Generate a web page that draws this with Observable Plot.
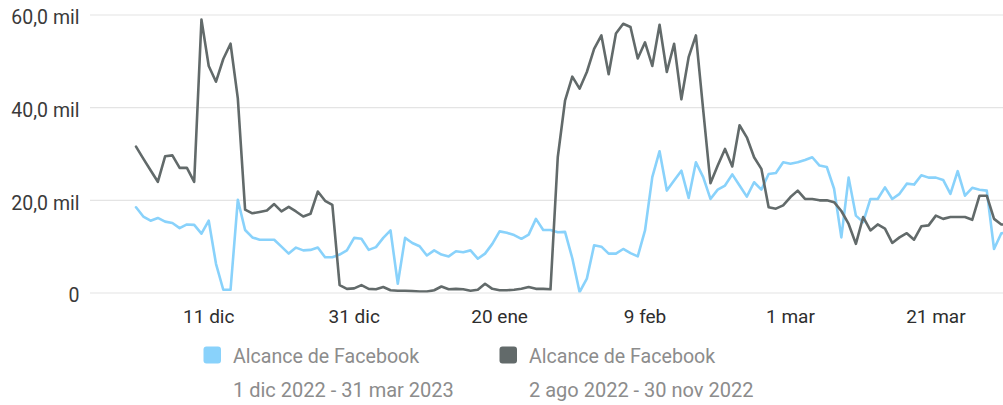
<!DOCTYPE html>
<html><head><meta charset="utf-8">
<script src="https://cdn.jsdelivr.net/npm/d3@7"></script>
<script src="https://cdn.jsdelivr.net/npm/@observablehq/plot@0.6"></script>
<style>
body{margin:0;background:#fff;font-family:Roboto,sans-serif;}
#wrap{position:relative;width:1003px;height:405px;overflow:hidden;}
#chart{position:absolute;left:0;top:0;}
#legend{position:absolute;left:0;top:0;}
</style></head><body>
<div id="wrap"><div id="chart"></div><svg id="legend" width="1003" height="405"></svg></div>
<script>
// Series: Alcance de Facebook (thousands), daily from 1 dic 2022
const startDate = "2022-12-01";
const blueValues = [18.5,16.5,15.6,16.2,15.4,15.1,14.0,14.8,14.7,12.8,15.6,6.3,0.7,0.7,20.1,13.6,12.0,11.5,11.5,11.5,
10.0,8.5,9.8,9.2,9.3,9.8,7.7,7.7,8.3,9.2,11.9,11.7,9.3,9.9,11.9,13.5,2.0,11.9,10.8,10.1,
8.1,9.2,8.3,7.9,9.0,8.8,9.2,7.4,8.5,10.6,13.3,13.0,12.5,11.7,12.6,16.0,13.6,13.6,13.1,13.2,
7.5,0.2,3.1,10.3,10.0,8.5,8.5,9.5,8.6,7.9,13.5,25.0,30.6,22.1,24.3,26.4,20.5,28.2,25.0,20.3,
22.3,23.2,25.6,23.2,20.8,23.9,22.3,25.7,25.9,28.2,27.9,28.2,28.7,29.3,27.5,27.2,22.5,12.0,24.9,16.7,
15.3,20.3,20.3,22.8,20.3,21.4,23.6,23.4,25.4,24.9,24.9,24.4,21.4,26.3,21.0,22.7,22.3,22.1,9.5,12.9,13.0];
const grayValues = [31.6,29.0,26.5,24.0,29.5,29.7,27.0,27.0,24.0,59.0,49.0,45.6,50.5,53.8,42.0,18.0,17.2,17.5,17.8,19.2,
17.6,18.6,17.6,16.5,17.1,21.9,19.9,19.0,1.7,0.9,1.0,1.7,0.9,0.8,1.3,0.6,0.5,0.5,0.4,0.3,
0.3,0.6,1.4,0.8,0.9,0.8,0.5,0.7,2.0,0.9,0.6,0.6,0.7,0.9,1.3,0.9,0.9,0.8,29.3,41.5,
46.7,44.1,47.7,52.7,55.6,47.2,56.0,58.1,57.4,50.6,54.1,49.0,57.9,47.7,53.8,41.8,50.9,55.6,39.5,23.7,
27.5,31.1,27.3,36.2,33.6,29.3,26.8,18.5,18.2,18.9,20.7,22.1,20.3,20.3,20.0,20.0,19.6,17.7,14.9,10.6,
16.4,13.5,14.8,13.9,10.8,12.0,12.9,11.5,14.4,14.6,16.7,16.0,16.4,16.4,16.4,15.8,21.0,21.0,16.0,14.8,14.8];
const seriesNames = ["Alcance de Facebook", "Alcance de Facebook"];
const seriesRanges = ["1 dic 2022 - 31 mar 2023", "2 ago 2022 - 30 nov 2022"];
const seriesColors = ["#89d2fb", "#626a6a"];
const xTickDates = ["2022-12-11","2022-12-31","2023-01-20","2023-02-09","2023-03-01","2023-03-21"];
const monthAbbr = ["ene","feb","mar","abr","may","jun","jul","ago","sep","oct","nov","dic"];
const yTicks = [0, 20000, 40000, 60000];

const DAY = 864e5;
const t0 = new Date(startDate + "T00:00:00Z").getTime();
const toDate = i => new Date(t0 + i * DAY);
const rows = [];
blueValues.forEach((v, i) => rows.push({date: toDate(i), value: v * 1000, s: 0}));
grayValues.forEach((v, i) => rows.push({date: toDate(i), value: v * 1000, s: 1}));

const fmtY = v => v === 0 ? "0" : (v / 1000).toFixed(1).replace(".", ",") + " mil";
const fmtX = d => d.getUTCDate() + " " + monthAbbr[d.getUTCMonth()];

const chart = Plot.plot({
  width: 1003, height: 335,
  marginLeft: 90, marginRight: 0, marginTop: 14.5, marginBottom: 42.5,
  style: {fontFamily: "Roboto, sans-serif", fontSize: "19px", color: "#333", background: "#fff"},
  x: {type: "utc", domain: [toDate(-6.26), toDate(119.3)]},
  y: {domain: [0, 60000]},
  marks: [
    Plot.gridY(yTicks, {stroke: "#e4e4e4", strokeOpacity: 1, strokeWidth: 1.2}),
    Plot.axisY(yTicks, {tickSize: 0, tickPadding: 11, tickFormat: fmtY, fontSize: 19.5, fill: "#3a3a3a", dy: 3, label: null}),
    Plot.axisX(xTickDates.map(s => new Date(s + "T00:00:00Z")), {tickSize: 0, tickPadding: 16, tickFormat: fmtX, fontSize: 19, fill: "#2e2e2e", label: null}),
    Plot.lineY(rows.filter(r => r.s === 0), {x: "date", y: "value", stroke: seriesColors[0], strokeWidth: 2.6, clip: true}),
    Plot.lineY(rows.filter(r => r.s === 1), {x: "date", y: "value", stroke: seriesColors[1], strokeWidth: 2.6, clip: true})
  ]
});
document.getElementById("chart").appendChild(chart);

const leg = d3.select("#legend");
const legX = [203.5, 499.5];
seriesNames.forEach((name, k) => {
  leg.append("rect").attr("x", legX[k]).attr("y", 346.5).attr("width", 17.5).attr("height", 17)
    .attr("rx", 3).attr("fill", seriesColors[k]);
  leg.append("text").attr("x", legX[k] + 29.5).attr("y", 362.7).attr("font-family", "Roboto, sans-serif")
    .attr("font-size", 19.6).attr("fill", "#8c8c8c").text(name);
  leg.append("text").attr("x", legX[k] + 29.5).attr("y", 396.7).attr("font-family", "Roboto, sans-serif")
    .attr("font-size", 20).attr("fill", "#8c8c8c").text(seriesRanges[k]);
});
</script></body></html>
